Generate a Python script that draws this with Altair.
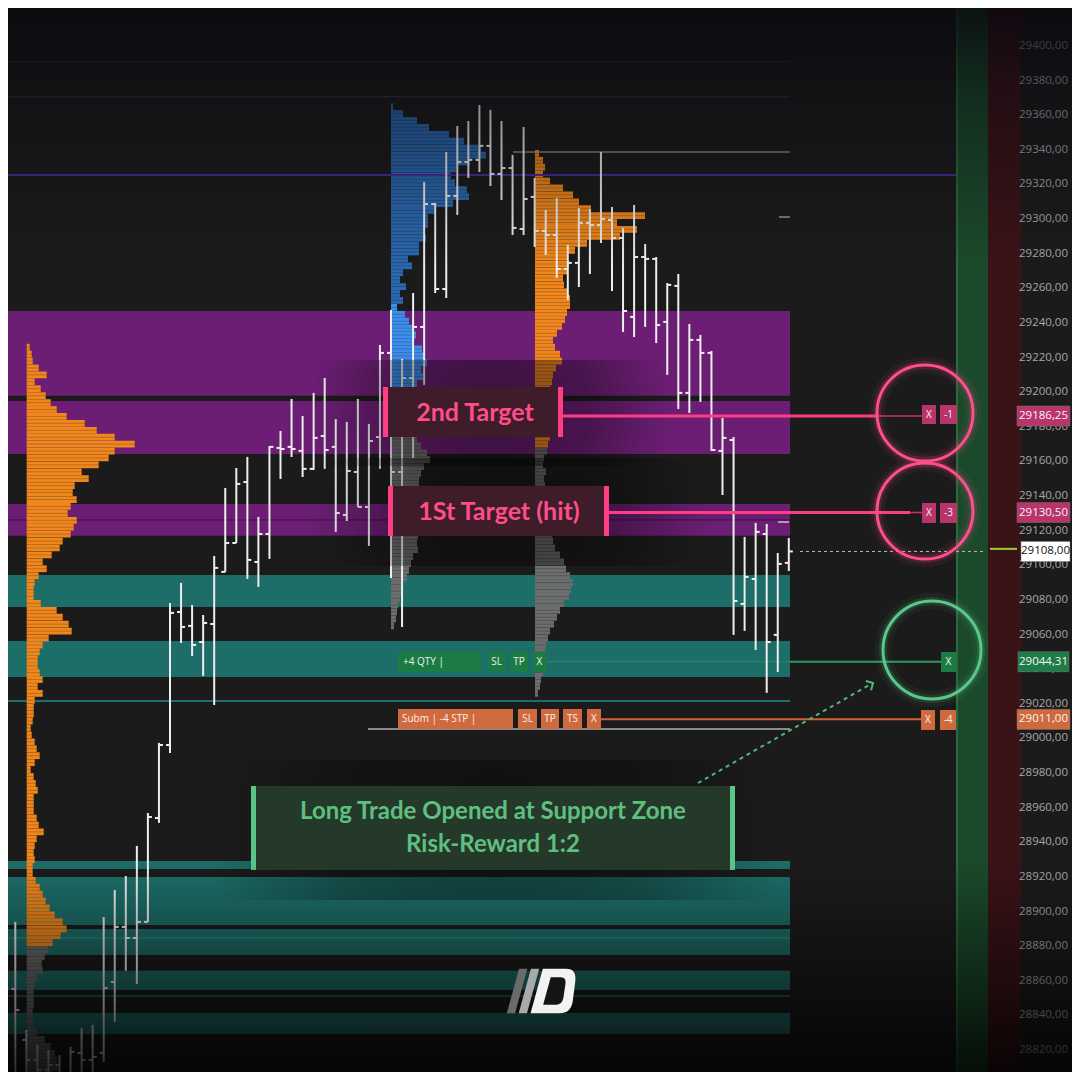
import altair as alt
import pandas as pd

OFF = 8
SIZE = 1064
X_DOMAIN = [8, 1072]
Y_DOMAIN = [28807.28, 29421.95]

# ---------------- OHLC bars (index 0..71) ----------------
highs = [28896.3, 28894.0, 28831.6, 28822.9, 28820.0, 28817.1, 28821.8, 28832.7, 28834.5, 28896.8,
         28912.4, 28920.5, 28937.9, 28956.9, 28997.4, 29078.2, 29089.8, 29077.1, 29071.3, 29105.4,
         29144.7, 29156.2, 29162.6, 29127.9, 29168.9, 29177.6, 29196.1, 29186.3, 29199.6, 29208.2,
         29184.5, 29182.8, 29196.1, 29181.7, 29227.3, 29247.5, 29219.2, 29257.3, 29321.5, 29309.3,
         29338.8, 29353.8, 29356.7, 29365.9, 29363.1, 29356.7, 29337.1, 29353.2, 29323.8, 29305.3,
         29312.2, 29285.1, 29306.4, 29305.9, 29338.8, 29307.0, 29294.9, 29308.2, 29285.6, 29278.1,
         29263.1, 29268.3, 29239.4, 29233.1, 29223.8, 29185.1, 29174.1, 29116.4, 29124.5, 29123.9,
         29107.1, 29115.8]
lows = [28799.8, 28799.8, 28799.8, 28799.8, 28799.8, 28799.8, 28796.9, 28796.9, 28799.8, 28813.1,
        28836.2, 28865.7, 28858.1, 28894.0, 28951.2, 28991.6, 29055.1, 29047.6, 29036.1, 29019.3,
        29096.2, 29112.9, 29092.1, 29087.5, 29103.7, 29149.9, 29162.6, 29151.0, 29155.1, 29155.7,
        29119.3, 29125.6, 29133.7, 29111.2, 29155.7, 29092.7, 29064.4, 29162.0, 29204.2, 29257.3,
        29254.4, 29302.4, 29323.8, 29327.2, 29319.1, 29311.1, 29290.8, 29290.8, 29283.9, 29279.3,
        29266.0, 29253.3, 29260.8, 29268.3, 29286.2, 29258.5, 29234.8, 29231.9, 29237.7, 29228.4,
        29210.0, 29190.3, 29188.0, 29194.4, 29166.1, 29140.6, 29059.8, 29062.1, 29051.1, 29026.3,
        29038.4, 29096.7]
opens = [28870.3, 28855.3, 28825.8, 28814.2, 28808.5, 28811.3, 28805.6, 28818.3, 28814.2, 28818.3,
         28859.3, 28891.1, 28884.7, 28894.0, 28954.0, 28996.2, 29073.0, 29065.0, 29055.7, 29066.1,
         29096.2, 29112.9, 29148.1, 29101.9, 29118.1, 29167.8, 29168.4, 29166.1, 29155.7, 29174.7,
         29168.4, 29129.1, 29153.9, 29133.7, 29174.1, 29222.7, 29153.9, 29208.2, 29237.7, 29308.7,
         29259.6, 29313.4, 29333.0, 29334.2, 29342.3, 29326.1, 29329.5, 29294.3, 29312.8, 29293.2,
         29290.8, 29271.2, 29274.7, 29297.8, 29296.6, 29299.5, 29289.1, 29243.5, 29278.1, 29277.0,
         29240.6, 29261.4, 29199.6, 29230.2, 29222.7, 29166.1, 29172.4, 29077.7, 29092.1, 29118.1,
         29059.8, 29101.4]
closes = [28855.3, 28843.1, 28814.2, 28808.5, 28811.3, 28805.6, 28818.9, 28814.2, 28816.0, 28855.8,
          28891.1, 28884.7, 28894.0, 28954.6, 28996.2, 29072.5, 29064.4, 29054.0, 29066.7, 29098.5,
          29112.9, 29147.0, 29103.1, 29118.1, 29168.4, 29167.2, 29167.2, 29155.7, 29173.6, 29166.6,
          29130.2, 29154.5, 29133.7, 29171.8, 29222.7, 29153.9, 29208.2, 29237.7, 29308.7, 29259.6,
          29313.4, 29333.0, 29334.2, 29342.3, 29326.1, 29329.5, 29294.9, 29311.6, 29293.2, 29290.8,
          29271.2, 29274.7, 29297.8, 29296.6, 29300.1, 29289.1, 29246.9, 29278.1, 29277.0, 29238.8,
          29262.0, 29199.6, 29230.2, 29222.7, 29166.6, 29173.6, 29079.4, 29093.3, 29119.3, 29055.7,
          29100.8, 29108.0]
bar_x0 = 4.25
bar_step = 11.05

# ---------------- zones ----------------
purple_top = [29246.9, 29194.9, 29135.4]
purple_bot = [29197.9, 29164.3, 29117.0]
teal_top = [29094.4, 29056.3, 28929.2, 28920.0, 28889.9, 28865.7, 28841.4]
teal_bot = [29075.9, 29035.5, 28924.6, 28892.2, 28874.9, 28854.7, 28829.3]

# ---------------- volume profiles (level widths) ----------------
prof1_top, prof1_step, prof1_base = 29226, 4, 26.7
prof1_w = [3, 5, 6, 12, 20, 8, 14, 19, 24, 30,
           40, 58, 70, 88, 108, 88, 82, 72, 55, 62,
           48, 46, 50, 44, 41, 50, 47, 44, 36, 33,
           25, 16, 20, 12, 8, 7, 7, 14, 30, 36,
           42, 45, 22, 16, 13, 11, 11, 13, 16, 11,
           16, 8, 7, 7, 6, 4, 5, 8, 10, 13,
           8, 4, 7, 9, 11, 7, 7, 7, 10, 12,
           17, 10, 8, 7, 8, 6, 6, 9, 13, 16,
           19, 23, 28, 36, 40, 34, 26, 21, 18, 15,
           16, 10, 8, 7, 7, 7, 6, 6, 7, 10,
           18, 24, 28, 30, 31, 26]
prof2_top, prof2_step, prof2_base = 29365, 4, 391
prof2_w = [2, 12, 26, 38, 58, 73, 90, 95, 79, 65,
           60, 64, 76, 78, 62, 45, 37, 37, 33, 35,
           28, 28, 17, 21, 12, 9, 15, 9, 12, 6,
           14, 18, 23, 25, 23, 31, 34, 36, 30, 32,
           26, 24, 24, 25, 25, 24, 24, 25, 26, 30,
           36, 39, 33, 30, 28, 28, 26, 28, 30, 28,
           26, 26, 27, 26, 27, 22, 20, 18, 16, 12,
           10, 9, 7, 6, 5, 3]
prof3_top, prof3_step, prof3_base = 29338, 4, 535
prof3_w = [4, 8, 10, 8, 15, 28, 38, 44, 56, 110,
           82, 102, 85, 52, 40, 33, 34, 32, 28, 29,
           32, 35, 35, 32, 30, 27, 22, 18, 20, 25,
           27, 21, 18, 17, 15, 15, 15, 15, 15, 15,
           15, 15, 13, 12, 9, 8, 11, 9, 10, 12,
           13, 14, 15, 16, 17, 17, 18, 20, 25, 29,
           31, 35, 38, 36, 34, 29, 25, 22, 19, 15,
           13, 11, 10, 9, 8, 8, 6, 5, 3]

ORANGE = "#f0871c"
GRAY = "#6d6d6d"
prof1_col = [ORANGE] * 87 + [GRAY] * (len(prof1_w) - 87)
prof2_col = ["#2b68b0"] * 29 + ["#3a8fe8"] * 19 + [GRAY] * (len(prof2_w) - 48)
prof3_col = [ORANGE] * 43 + [GRAY] * (len(prof3_w) - 43)

# ---------------- orders / levels ----------------
target2 = 29186.25
target1 = 29130.50
last_price = 29108.00
entry = 29044.31
stop = 29011.00
price_ticks = list(range(28820, 29401, 20))

# ---------------- helpers ----------------
xs = alt.Scale(domain=X_DOMAIN, nice=False, zero=False)
ys = alt.Scale(domain=Y_DOMAIN, nice=False, zero=False)


def X(f):
    return alt.X(f, scale=xs, axis=None)


def Y(f):
    return alt.Y(f, scale=ys, axis=None)


ONE = pd.DataFrame({"d": [0]})


def pbox(x1, y1, x2, y2, **mk):
    return alt.Chart(ONE).mark_rect(**mk).encode(
        x=alt.value(x1 - OFF), x2=alt.value(x2 - OFF),
        y=alt.value(y1 - OFF), y2=alt.value(y2 - OFF))


def ptext(x, y, s, **mk):
    return alt.Chart(ONE).mark_text(text=s, **mk).encode(
        x=alt.value(x - OFF), y=alt.value(y - OFF))


def pcircle(x, y, d, **mk):
    return alt.Chart(ONE).mark_point(shape="circle", filled=False, size=d * d, **mk).encode(
        x=alt.value(x - OFF), y=alt.value(y - OFF))


def shadow(x1, y1, x2, y2, a):
    grad = alt.Gradient(
        gradient="radial", x1=0.5, y1=0.5, r1=0, x2=0.5, y2=0.5, r2=0.5,
        stops=[alt.GradientStop(color=f"rgba(0,0,0,{a})", offset=0),
               alt.GradientStop(color=f"rgba(0,0,0,{a * 0.7:.2f})", offset=0.55),
               alt.GradientStop(color="rgba(0,0,0,0)", offset=1)])
    return pbox(x1, y1, x2, y2, color=grad)


layers = []

# right columns
layers.append(pbox(956, 0, 988, 1080, color="#1b4a2a"))
layers.append(pbox(988, 0, 1021, 1080, color="#3a1317"))
layers.append(pbox(956, 0, 958, 1080, color="#2a6a3c"))

# zones
zones = pd.DataFrame({
    "top": purple_top + teal_top,
    "bot": purple_bot + teal_bot,
    "col": ["#6b1e73"] * len(purple_top) + ["#1d6d68"] * len(teal_top),
})
zones["x1"] = 8
zones["x2"] = 790
layers.append(alt.Chart(zones).mark_rect().encode(
    x=X("x1:Q"), x2="x2:Q", y=Y("top:Q"), y2="bot:Q",
    color=alt.Color("col:N", scale=None)))

# horizontal reference lines under the bars
under = pd.DataFrame({
    "p":   [29390.8, 29370.6, 29338.8, 29301.2, 29125.0, 29126.2, 29021.6, 28884.7, 28851.2, 29005.5, 28834.5, entry],
    "x1":  [8, 8, 513, 779, 778, 8, 8, 8, 8, 368, 368, 547],
    "x2":  [790, 790, 790, 790, 789, 790, 790, 790, 790, 790, 790, 790],
    "w":   [1, 1, 1.5, 1.5, 1.5, 1, 2, 1.5, 1.5, 2, 1.5, 1],
    "col": ["#33333d", "#3a3a44", "#8a8a8a", "#9a9a9a", "#c8c8c8", "#3a1240", "#1d6d68",
            "#2c8a80", "#1d6d68", "#8a8a8a", "#5a5a5a", "#2f8a5c"],
})
layers.append(alt.Chart(under).mark_rule().encode(
    x=X("x1:Q"), x2="x2:Q", y=Y("p:Q"),
    strokeWidth=alt.StrokeWidth("w:Q", scale=None),
    color=alt.Color("col:N", scale=None)))

# volume profiles


def prof_df(top, step, base, widths, colors):
    return pd.DataFrame({
        "p": [top - step * k for k in range(len(widths))],
        "w": widths, "base": base, "col": colors})


prof = pd.concat([
    prof_df(prof1_top, prof1_step, prof1_base, prof1_w, prof1_col),
    prof_df(prof2_top, prof2_step, prof2_base, prof2_w, prof2_col),
    prof_df(prof3_top, prof3_step, prof3_base, prof3_w, prof3_col),
], ignore_index=True)
layers.append(alt.Chart(prof).transform_calculate(
    xe="datum.base + datum.w", pt="datum.p + 1.95", pb="datum.p - 1.95"
).mark_rect(clip=True).encode(
    x=X("base:Q"), x2="xe:Q", y=Y("pt:Q"), y2="pb:Q",
    color=alt.Color("col:N", scale=None)))
# faint level striation
layers.append(alt.Chart(prof).transform_calculate(
    xe="datum.base + datum.w", pm="datum.p + 0.0"
).mark_rule(clip=True, strokeWidth=0.6, opacity=0.35, color="#000000").encode(
    x=X("base:Q"), x2="xe:Q", y=Y("pm:Q")))

# purple level line
purple_line = pd.DataFrame({"p": [29325.5], "x1": [8], "x2": [956]})
layers.append(alt.Chart(purple_line).mark_rule(color="#4b2a9e", strokeWidth=2).encode(
    x=X("x1:Q"), x2="x2:Q", y=Y("p:Q")))

# OHLC bars
cdf = pd.DataFrame({"i": list(range(len(highs))), "h": highs, "l": lows, "o": opens, "c": closes})
base_c = (alt.Chart(cdf)
          .transform_calculate(cx=f"{bar_x0} + {bar_step} * datum.i")
          .transform_calculate(lx="datum.cx - 4", rx="datum.cx + 4"))
layers.append(base_c.mark_rule(color="#eeeeee", strokeWidth=2, clip=True).encode(
    x=X("cx:Q"), y=Y("h:Q"), y2="l:Q"))
layers.append(base_c.mark_rule(color="#eeeeee", strokeWidth=2, clip=True).encode(
    x=X("lx:Q"), x2="cx:Q", y=Y("o:Q")))
layers.append(base_c.mark_rule(color="#eeeeee", strokeWidth=2, clip=True).encode(
    x=X("cx:Q"), x2="rx:Q", y=Y("c:Q")))

# soft shadows of annotation boxes
layers.append(shadow(310, 360, 670, 466, 0.45))
layers.append(shadow(310, 458, 710, 566, 0.45))
layers.append(shadow(210, 760, 780, 900, 0.4))

# annotation boxes
PINK = "#ff3d84"
PINK_TXT = "#ff4d8a"
layers.append(pbox(383, 387, 563, 437, color="#3e1c2a"))
layers.append(pbox(383, 387, 388, 437, color=PINK))
layers.append(pbox(558, 387, 563, 437, color=PINK))
layers.append(ptext(475, 413, "2nd Target", font="Lato", fontWeight="bold", fontSize=25,
                    color=PINK_TXT, align="center", baseline="middle"))
layers.append(pbox(388, 486, 609, 536, color="#3e1c2a"))
layers.append(pbox(388, 486, 393, 536, color=PINK))
layers.append(pbox(604, 486, 609, 536, color=PINK))
layers.append(ptext(499, 512, "1St Target (hit)", font="Lato", fontWeight="bold", fontSize=25,
                    color=PINK_TXT, align="center", baseline="middle"))

GREEN_TXT = "#5ec07f"
layers.append(pbox(251, 786, 735, 870, color="#25392b"))
layers.append(pbox(251, 786, 256, 870, color="#5cc486"))
layers.append(pbox(730, 786, 735, 870, color="#5cc486"))
layers.append(ptext(493, 812, "Long Trade Opened at Support Zone", font="Lato", fontWeight="bold",
                    fontSize=24, color=GREEN_TXT, align="center", baseline="middle"))
layers.append(ptext(493, 845, "Risk-Reward 1:2", font="Lato", fontWeight="bold",
                    fontSize=24, color=GREEN_TXT, align="center", baseline="middle"))

# order / target lines over everything
over = pd.DataFrame({
    "p":   [target2, target2, target1, target1, entry, stop],
    "x1":  [563, 878, 609, 910, 790, 601],
    "x2":  [878, 922, 910, 922, 942, 922],
    "w":   [3, 1.5, 3, 1.5, 2, 2],
    "col": [PINK, "#c8306a", PINK, "#c8306a", "#2f9a5e", "#d0623a"],
})
layers.append(alt.Chart(over).mark_rule().encode(
    x=X("x1:Q"), x2="x2:Q", y=Y("p:Q"),
    strokeWidth=alt.StrokeWidth("w:Q", scale=None),
    color=alt.Color("col:N", scale=None)))
last_df = pd.DataFrame({"p": [last_price], "x1": [800], "x2": [985]})
layers.append(alt.Chart(last_df).mark_rule(color="#bbbbbb", strokeWidth=1, strokeDash=[3, 3]).encode(
    x=X("x1:Q"), x2="x2:Q", y=Y("p:Q")))
last_df2 = pd.DataFrame({"p": [last_price + 1.5], "x1": [990], "x2": [1017]})
layers.append(alt.Chart(last_df2).mark_rule(color="#9ccc3a", strokeWidth=2).encode(
    x=X("x1:Q"), x2="x2:Q", y=Y("p:Q")))

# order buttons on the chart
BTN_G = "#1c7a44"
BTN_O = "#cf6a3f"
BTN_P = "#b8346b"
for (lab, x1, x2) in [("+4 QTY |", 398, 481), ("SL", 488, 505), ("TP", 510, 528), ("X", 533, 546)]:
    layers.append(pbox(x1, 652, x2, 672, color=BTN_G))
    if lab.startswith("+"):
        layers.append(ptext(x1 + 5, 662, lab, font="Open Sans", fontSize=10, color="#e8f2ea",
                            align="left", baseline="middle"))
    else:
        layers.append(ptext((x1 + x2) / 2, 662, lab, font="Open Sans", fontSize=10, color="#e8f2ea",
                            align="center", baseline="middle"))
for (lab, x1, x2) in [("Subm | -4 STP |", 398, 513), ("SL", 518, 537), ("TP", 541, 559),
                      ("TS", 563, 582), ("X", 587, 601)]:
    layers.append(pbox(x1, 709, x2, 729, color=BTN_O))
    if lab.startswith("Subm"):
        layers.append(ptext(x1 + 4, 719, lab, font="Open Sans", fontSize=10, color="#fbeee8",
                            align="left", baseline="middle"))
    else:
        layers.append(ptext((x1 + x2) / 2, 719, lab, font="Open Sans", fontSize=10, color="#fbeee8",
                            align="center", baseline="middle"))

# circles with glow
for (cx, cy, d, col) in [(925, 413, 96, "#ff4d8d"), (925, 511, 96, "#ff4d8d"), (932, 650, 98, "#5ac88a")]:
    layers.append(pcircle(cx, cy, d, color=col, strokeWidth=16, opacity=0.06))
    layers.append(pcircle(cx, cy, d, color=col, strokeWidth=8, opacity=0.15))
    layers.append(pcircle(cx, cy, d, color=col, strokeWidth=3, opacity=1))

# right-side order buttons
for (lab, x1, x2, y1, y2, col) in [
        ("X", 922, 936, 405, 424, BTN_P), ("-1", 940, 957, 405, 424, BTN_P),
        ("X", 922, 936, 503, 523, BTN_P), ("-3", 940, 957, 503, 523, BTN_P),
        ("X", 941, 956, 652, 672, BTN_G),
        ("X", 921, 935, 710, 730, BTN_O), ("-4", 940, 956, 710, 730, BTN_O)]:
    layers.append(pbox(x1, y1, x2, y2, color=col))
    layers.append(ptext((x1 + x2) / 2, (y1 + y2) / 2, lab, font="Open Sans", fontSize=10,
                        color="#f4f4f4", align="center", baseline="middle"))

# dashed arrow
layers.append(alt.Chart(ONE).mark_rule(color="#4fb878", strokeWidth=2, strokeDash=[4, 4]).encode(
    x=alt.value(698 - OFF), y=alt.value(783 - OFF), x2=alt.value(871 - OFF), y2=alt.value(684 - OFF)))
layers.append(alt.Chart(ONE).mark_point(shape="M-1,-1L0,0L-1,1", filled=False, size=110,
                                        strokeWidth=2, color="#4fb878", angle=330, opacity=1).encode(
    x=alt.value(873 - OFF), y=alt.value(683 - OFF)))

# price scale labels
LABEL_RIGHT = 1068
labels = pd.DataFrame({"p": price_ticks,
                       "lab": [f"{v:.2f}".replace(".", ",") for v in price_ticks]})
layers.append(alt.Chart(labels).mark_text(align="right", baseline="middle", fontSize=11.5,
                                          font="Open Sans", color="#a8a8a8").encode(
    x=alt.value(LABEL_RIGHT - OFF), y=Y("p:Q"), text="lab:N"))

hl = pd.DataFrame({
    "p": [target2, target1, last_price, entry, stop],
    "bg": [BTN_P, BTN_P, "#ffffff", "#1e7c46", BTN_O],
    "fg": ["#f5f5f5", "#f5f5f5", "#111111", "#f5f5f5", "#f5f5f5"],
    "x1": [1017, 1017, 1021, 1018, 1017],
    "x2": [1070, 1070, 1070, 1069, 1070],
})
hl["lab"] = [f"{v:.2f}".replace(".", ",") for v in hl["p"]]
hl_base = alt.Chart(hl).transform_calculate(
    pt="datum.p + 5.8", pb="datum.p - 5.8", xc="(datum.x1 + datum.x2) / 2")
layers.append(hl_base.mark_rect(stroke="#777777", strokeWidth=0.5).encode(
    x=X("x1:Q"), x2="x2:Q", y=Y("pt:Q"), y2="pb:Q", color=alt.Color("bg:N", scale=None)))
layers.append(hl_base.mark_text(align="center", baseline="middle", fontSize=11.5,
                                font="Open Sans").encode(
    x=X("xc:Q"), y=Y("p:Q"), text="lab:N", color=alt.Color("fg:N", scale=None)))

# vignette top/bottom
layers.append(pbox(0, 0, 1080, 270, color=alt.Gradient(
    gradient="linear", x1=0, x2=0, y1=0, y2=1,
    stops=[alt.GradientStop(color="rgba(8,8,14,0.88)", offset=0),
           alt.GradientStop(color="rgba(8,8,14,0.45)", offset=0.35),
           alt.GradientStop(color="rgba(8,8,14,0)", offset=1)])))
layers.append(pbox(0, 860, 1080, 1080, color=alt.Gradient(
    gradient="linear", x1=0, x2=0, y1=0, y2=1,
    stops=[alt.GradientStop(color="rgba(0,0,0,0)", offset=0),
           alt.GradientStop(color="rgba(0,0,0,0.5)", offset=0.6),
           alt.GradientStop(color="rgba(0,0,0,0.85)", offset=1)])))

# logo
logo_shapes = [
    ("M-0.95,0.62L-0.72,0.62L-0.38,-0.62L-0.61,-0.62Z", "#6a6a6a"),
    ("M-0.62,0.62L-0.39,0.62L-0.05,-0.62L-0.28,-0.62Z", "#a9a9a9"),
    ("M-0.29,0.62L0.52,0.62Q0.82,0.62 0.88,0.3L0.95,-0.25Q1.0,-0.62 0.7,-0.62L0.05,-0.62Z", "#f2f2f2"),
    ("M0.06,0.38L0.42,0.38Q0.58,0.38 0.62,0.2L0.68,-0.2Q0.7,-0.38 0.55,-0.38L0.27,-0.38Z", "#141414"),
]
for path, col in logo_shapes:
    layers.append(alt.Chart(ONE).mark_point(shape=path, filled=True, size=72 * 72, color=col,
                                            opacity=1, strokeWidth=0).encode(
        x=alt.value(541 - OFF), y=alt.value(991 - OFF)))

chart = alt.layer(*layers).properties(
    width=SIZE, height=SIZE, background="#1b1b1b", padding=0, autosize="none"
).configure_view(stroke=None)

chart.save("out.html", embed_options={"renderer": "svg", "actions": False})
